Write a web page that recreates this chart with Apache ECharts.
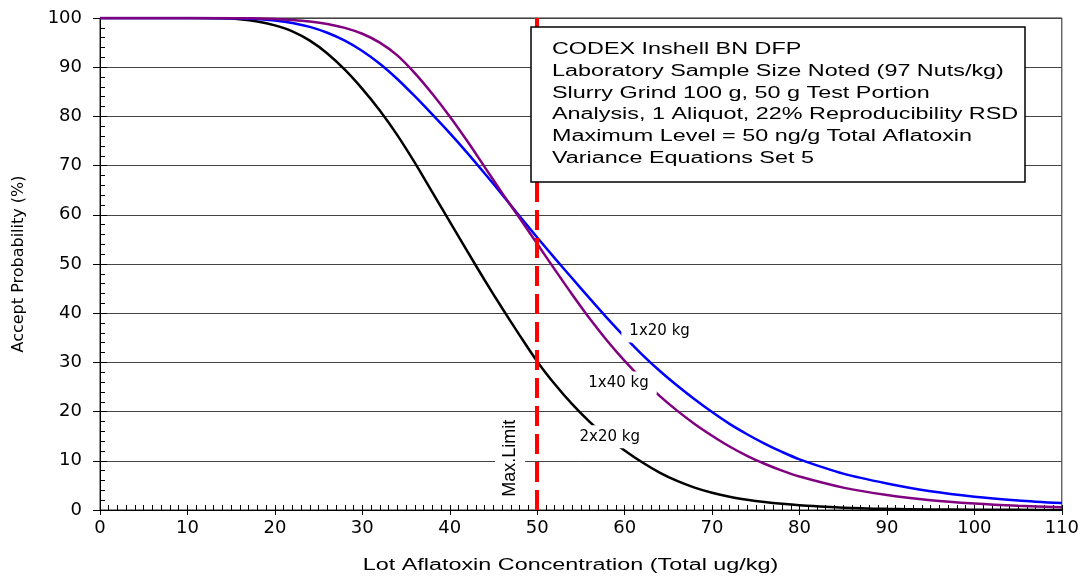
<!DOCTYPE html>
<html>
<head>
<meta charset="utf-8">
<title>Accept Probability</title>
<script src="https://cdn.jsdelivr.net/npm/echarts@6/dist/echarts.min.js"></script>
<style>
  html, body { margin: 0; padding: 0; background: #fff; }
  #chart { width: 1082px; height: 579px; }
</style>
</head>
<body>
<div id="chart"></div>
<script>
// lot concentration (total ug/kg)
var lotConc = [0, 5, 10, 14, 16, 18, 20, 22, 24, 26, 28, 30, 32, 34, 36, 38, 40, 42, 44, 46, 48,
  50, 52, 54, 56, 58, 60, 62, 64, 66, 68, 70, 72, 74, 76, 78, 80, 85, 90, 95, 100, 105, 110];

// accept probability (%) for each sampling plan
var accept2x20 = [100, 100, 100, 99.93, 99.75, 99.3, 98.5, 97.3, 95.4, 92.8, 89.5, 85.6, 81.2, 76.2, 70.6, 64.6, 58.6, 52.6, 46.7, 41.0, 35.5,
  30.2, 25.6, 21.5, 17.9, 14.8, 12.1, 9.7, 7.6, 5.9, 4.55, 3.5, 2.7, 2.1, 1.62, 1.25, 0.97, 0.48, 0.24, 0.12, 0.06, 0.03, 0.01];
var accept1x20 = [100, 100, 100, 99.97, 99.92, 99.8, 99.5, 99.0, 98.2, 97.0, 95.4, 93.3, 90.7, 87.6, 84.1, 80.4, 76.6, 72.6, 68.4, 64.1, 59.7,
  55.4, 51.2, 47.1, 43.0, 39.0, 35.2, 31.6, 28.3, 25.3, 22.5, 19.9, 17.5, 15.4, 13.5, 11.8, 10.3, 7.4, 5.4, 3.8, 2.7, 1.95, 1.4];
var accept1x40 = [100, 100, 100, 100, 99.95, 99.9, 99.8, 99.6, 99.3, 98.8, 98, 96.8, 95, 92.4, 88.8, 84.6, 80, 75, 69.7, 64.4, 59.3,
  54.1, 48.9, 43.8, 38.9, 34.4, 30.3, 26.6, 23.2, 20.2, 17.5, 15.1, 12.9, 11.0, 9.4, 8.0, 6.8, 4.55, 3.05, 2.0, 1.33, 0.87, 0.56];

var maxLimit = 50;

// where the curve names sit (x, y in data units)
var labelAt2x20 = [58.3, 14.9];
var labelAt1x20 = [64.0, 36.4];
var labelAt1x40 = [59.3, 25.8];
var labelAtMax = [46.9, 10.5];

var infoLines = [
  'CODEX Inshell BN DFP',
  'Laboratory Sample Size Noted (97 Nuts/kg)',
  'Slurry Grind 100 g, 50 g Test Portion',
  'Analysis, 1 Aliquot, 22% Reproducibility RSD',
  'Maximum Level = 50 ng/g Total Aflatoxin',
  'Variance Equations Set 5'
];

var chart = echarts.init(document.getElementById('chart'));

function pairs(ys) {
  return lotConc.map(function (x, i) { return [x, ys[i]]; });
}

var curveLabel = {
  show: true,
  position: 'inside',
  formatter: '{b}',
  color: '#000',
  fontFamily: 'DejaVu Sans',
  fontSize: 15,
  backgroundColor: '#fff',
  padding: [4, 8]
};

function curve(name, color, ys, extraPoints) {
  return {
    name: name,
    type: 'line',
    data: pairs(ys),
    symbol: 'none',
    smooth: 0.3,
    lineStyle: { color: color, width: 2.5 },
    itemStyle: { color: color },
    markPoint: {
      symbol: 'rect',
      symbolSize: 1,
      silent: true,
      itemStyle: { color: 'rgba(0,0,0,0)' },
      label: curveLabel,
      data: extraPoints
    }
  };
}

var s2x20 = curve('2x20 kg', '#000000', accept2x20, [
  { name: '2x20 kg', coord: labelAt2x20 },
  {
    name: 'Max.Limit', coord: labelAtMax,
    label: { rotate: 90, fontFamily: 'Liberation Sans', fontSize: 18, padding: [2, 4, 10, 4] }
  }
]);
var s1x20 = curve('1x20 kg', '#0000ff', accept1x20, [{ name: '1x20 kg', coord: labelAt1x20 }]);
var s1x40 = curve('1x40 kg', '#800080', accept1x40, [{ name: '1x40 kg', coord: labelAt1x40 }]);
s1x40.markLine = {
  silent: true,
  symbol: ['none', 'none'],
  label: { show: false },
  lineStyle: { color: '#ff0000', width: 4, type: [20, 8] },
  data: [{ xAxis: maxLimit }]
};

var tickColor = '#000';

option = {
  animation: false,
  grid: {
    left: 100, right: 20, top: 18, bottom: 69,
    show: true, borderColor: '#222', borderWidth: 1
  },
  xAxis: [
    {
      type: 'value', min: 0, max: 110, interval: 10,
      axisLine: { show: true, lineStyle: { color: '#000', width: 1 } },
      axisTick: { show: true, inside: true, length: 5, lineStyle: { color: tickColor } },
      minorTick: { show: true, splitNumber: 10, length: 5, lineStyle: { color: tickColor } },
      axisLabel: { margin: 9, color: '#000', fontFamily: 'DejaVu Sans', fontSize: 18 },
      splitLine: { show: false }
    },
    {
      // outer half of the major ticks
      type: 'value', min: 0, max: 110, interval: 10, position: 'bottom',
      axisLine: { show: false },
      axisTick: { show: true, inside: false, length: 5, lineStyle: { color: tickColor } },
      axisLabel: { show: false },
      splitLine: { show: false }
    }
  ],
  yAxis: [
    {
      type: 'value', min: 0, max: 100, interval: 10,
      name: 'Accept Probability (%)', nameLocation: 'middle', nameRotate: 90, nameGap: 73,
      nameTextStyle: { fontFamily: 'DejaVu Sans', fontSize: 16, color: '#000' },
      axisLine: { show: true, lineStyle: { color: '#000', width: 1 } },
      axisTick: { show: true, inside: true, length: 7, lineStyle: { color: tickColor } },
      minorTick: { show: true, splitNumber: 5, length: 5, lineStyle: { color: tickColor } },
      axisLabel: { margin: 18, color: '#000', fontFamily: 'DejaVu Sans', fontSize: 18 },
      splitLine: { show: true, lineStyle: { color: '#444', width: 1 } }
    },
    {
      type: 'value', min: 0, max: 100, interval: 10, position: 'left',
      axisLine: { show: false },
      axisTick: { show: true, inside: false, length: 7, lineStyle: { color: tickColor } },
      axisLabel: { show: false },
      splitLine: { show: false }
    }
  ],
  series: [s2x20, s1x20, s1x40],
  graphic: [
    {
      type: 'rect', z: 100,
      shape: { x: 531, y: 27, width: 494, height: 155 },
      style: { fill: '#fff', stroke: '#000', lineWidth: 1.5 }
    },
    {
      type: 'text', z: 101, x: 552, y: 39, scaleX: 1.46,
      style: {
        text: infoLines.join('\n'), fill: '#000',
        fontFamily: 'Liberation Sans', fontSize: 16, lineHeight: 21.7,
        align: 'left', verticalAlign: 'top'
      }
    },
    {
      type: 'text', z: 101, x: 570.5, y: 566, scaleX: 1.46,
      style: {
        text: 'Lot Aflatoxin Concentration (Total ug/kg)', fill: '#000',
        fontFamily: 'Liberation Sans', fontSize: 16,
        align: 'center', verticalAlign: 'middle'
      }
    }
  ]
};

chart.setOption(option);
window.onresize = chart.resize;
</script>
</body>
</html>
